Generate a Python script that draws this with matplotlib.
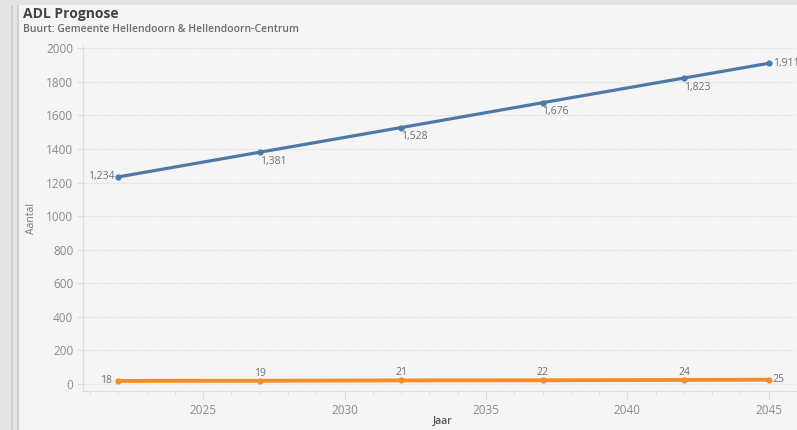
import matplotlib.pyplot as plt
from matplotlib.ticker import MultipleLocator
from matplotlib.patches import Rectangle

plt.rcParams['font.family'] = ['Open Sans', 'DejaVu Sans']

# data
years = [2022, 2027, 2032, 2037, 2042, 2045]
adl_total = [1234, 1381, 1528, 1676, 1823, 1911]
adl_small = [18, 19, 21, 22, 24, 25]

BLUE = "#4e79a7"
ORANGE = "#f28e2b"
BG = "#f5f5f5"
TXT = "#8a8a8a"

fig = plt.figure(figsize=(7.97, 4.30), dpi=100)
fig.patch.set_facecolor(BG)

# left side strip of the dashboard
fig.patches.append(Rectangle((0, 0), 17 / 797, 1, transform=fig.transFigure,
                             facecolor="#e4e4e4", edgecolor="none", zorder=0))
fig.patches.append(Rectangle((11 / 797, 0), 1.5 / 797, 1, transform=fig.transFigure,
                             facecolor="#cfcfcf", edgecolor="none", zorder=0))
fig.patches.append(Rectangle((17 / 797, 0), 1.5 / 797, 1, transform=fig.transFigure,
                             facecolor="#d0d0d0", edgecolor="none", zorder=0))
fig.patches.append(Rectangle((0, 1 - 5 / 430), 1, 5 / 430, transform=fig.transFigure,
                             facecolor="#e4e4e4", edgecolor="none", zorder=0))

ax = fig.add_axes([83 / 797, 1 - 391 / 430, (797 - 83) / 797, (391 - 45) / 430])
ax.set_facecolor(BG)

ax.plot(years, adl_total, color=BLUE, lw=2.3, marker="o", ms=3.5, zorder=3,
        clip_on=False)
ax.plot(years, adl_small, color=ORANGE, lw=2.8, marker="o", ms=3.5, zorder=3,
        clip_on=False)

lab = dict(fontsize=7.5, color="#707070")
for i, (x, y) in enumerate(zip(years, adl_total)):
    txt = f"{y:,}"
    if i == 0:
        ax.annotate(txt, (x, y), xytext=(-3, 0), textcoords="offset points",
                    ha="right", va="center", **lab)
    elif i == len(years) - 1:
        ax.annotate(txt, (x, y), xytext=(3, 0), textcoords="offset points",
                    ha="left", va="center", annotation_clip=False, **lab)
    else:
        ax.annotate(txt, (x, y), xytext=(0, -2.5), textcoords="offset points",
                    ha="left", va="top", **lab)

for i, (x, y) in enumerate(zip(years, adl_small)):
    if i == 0:
        ax.annotate(str(y), (x, y), xytext=(-5, 0), textcoords="offset points",
                    ha="right", va="center", **lab)
    elif i == len(years) - 1:
        ax.annotate(str(y), (x, y), xytext=(3, 0), textcoords="offset points",
                    ha="left", va="center", annotation_clip=False, **lab)
    else:
        ax.annotate(str(y), (x, y), xytext=(0, 1.5), textcoords="offset points",
                    ha="center", va="bottom", **lab)

ax.set_xlim(2020.75, 2046.0)
ax.set_ylim(-42, 2020)
ax.xaxis.set_major_locator(MultipleLocator(5))
ax.xaxis.set_minor_locator(MultipleLocator(1))
ax.yaxis.set_major_locator(MultipleLocator(200))

ax.grid(axis="y", color="#e2e2e2", lw=0.8, ls=(0, (2, 1)))
for s in ["top", "right"]:
    ax.spines[s].set_visible(False)
ax.spines["left"].set_color("#dcdcdc")
ax.spines["bottom"].set_color("#dcdcdc")
ax.tick_params(axis="y", length=4, color="#dcdcdc", labelcolor=TXT, labelsize=8.5, pad=3)
ax.tick_params(axis="x", which="major", length=6, color="#dcdcdc", labelcolor=TXT,
               labelsize=8.5, pad=3)
ax.tick_params(axis="x", which="minor", length=3, color="#e0e0e0")

ax.set_ylabel("Aantal", fontsize=7.5, color="#777777")
ax.yaxis.set_label_coords(-0.065, 0.5)
fig.text(443 / 797, 1 - 421 / 430, "Jaar", fontsize=7.5, color="#555555",
         ha="center", va="center", fontweight="semibold")

fig.text(23 / 797, 1 - 14 / 430, "ADL Prognose", fontsize=10, fontweight="bold",
         color="#444444", ha="left", va="center")
fig.text(23 / 797, 1 - 29 / 430, "Buurt: Gemeente Hellendoorn & Hellendoorn-Centrum",
         fontsize=7.5, fontweight="semibold", color="#6a6a6a", ha="left", va="center")

fig.savefig("out.png", dpi=100, facecolor=BG)
